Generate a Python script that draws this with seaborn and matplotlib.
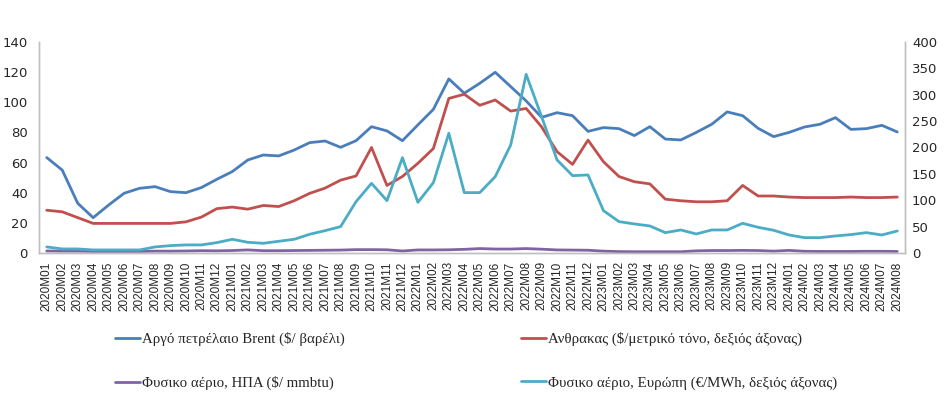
import matplotlib
matplotlib.use('Agg')
import matplotlib.pyplot as plt
import seaborn as sns
import pandas as pd

# Monthly labels 2020M01 - 2024M08
months = [f'{y}M{m:02d}' for y in range(2020, 2025) for m in range(1, 13)][:56]

# Values
brent = [63.3, 55.0, 33.0, 23.4, 31.8, 39.6, 42.9, 44.0, 40.7, 40.0, 43.4, 48.9,
         54.0, 61.7, 65.0, 64.4, 68.3, 73.2, 74.3, 70.1, 74.5, 83.8, 81.0, 74.5,
         85.0, 95.3, 115.5, 106.0, 112.6, 119.9, 110.4, 100.9, 90.0, 93.1, 91.1, 80.7,
         83.2, 82.5, 77.9, 83.8, 75.6, 75.0, 80.0, 85.4, 93.6, 91.1, 82.7, 77.2,
         80.0, 83.6, 85.4, 89.8, 82.0, 82.5, 84.7, 80.3]
coal = [81, 78, 67, 56, 56, 56, 56, 56, 56, 59, 68, 84,
        87, 83, 90, 88, 99, 113, 123, 138, 146, 200, 128, 145,
        170, 198, 293, 301, 280, 290, 269, 274, 239, 192, 168, 214,
        173, 145, 135, 131, 102, 99, 97, 97, 99, 128, 108, 108,
        106, 105, 105, 105, 106, 105, 105, 106]
gas_us = [1.3, 1.2, 1.2, 1.0, 1.0, 1.0, 1.0, 1.2, 1.2, 1.3, 1.5, 1.4,
          1.6, 2.0, 1.5, 1.5, 1.6, 1.7, 1.8, 1.9, 2.2, 2.2, 2.1, 1.3,
          2.0, 2.0, 2.1, 2.4, 2.9, 2.6, 2.6, 2.9, 2.5, 2.0, 1.9, 1.8,
          1.2, 0.9, 0.8, 0.8, 0.8, 0.8, 1.4, 1.6, 1.6, 1.7, 1.6, 1.2,
          1.7, 1.1, 1.0, 1.0, 1.0, 1.1, 1.1, 1.0]
gas_eu = [11.4, 7.6, 7.6, 5.7, 5.7, 5.7, 5.7, 11.4, 13.9, 15.2, 15.2, 19.6,
          25.9, 20.2, 18.3, 22.1, 25.9, 35.4, 42.3, 49.9, 97.3, 132.0, 99.2, 180.7,
          96.0, 133.3, 226.9, 114.4, 114.4, 144.7, 204.7, 338.7, 258.4, 176.3, 146.6, 147.9,
          80.2, 59.4, 55.0, 51.2, 38.5, 43.6, 36.0, 43.6, 43.6, 56.2, 48.6, 43.0,
          34.1, 29.0, 29.0, 32.2, 34.8, 38.5, 34.1, 41.7]

labels = ['Αργό πετρέλαιο Brent ($/ βαρέλι)',
          'Ανθρακας ($/μετρικό τόνο, δεξιός άξονας)',
          'Φυσικο αέριο, ΗΠΑ ($/ mmbtu)',
          'Φυσικο αέριο, Ευρώπη (€/MWh, δεξιός άξονας)']

df = pd.DataFrame({'pos': range(len(months)), 'month': months,
                   'brent': brent, 'coal': coal, 'gas_us': gas_us, 'gas_eu': gas_eu})

sns.set_style('white')
plt.rcParams['font.family'] = ['Liberation Sans', 'DejaVu Sans']

fig = plt.figure(figsize=(9.45, 3.94), dpi=100)
ax = fig.add_axes([0.0413, 0.358, 0.9164, 0.5354])
ax2 = ax.twinx()

lw = 2.0
sns.lineplot(data=df, x='pos', y='brent', ax=ax, color='#4A7EBB', lw=lw, label=labels[0], legend=False)
sns.lineplot(data=df, x='pos', y='gas_us', ax=ax, color='#8064A2', lw=lw, label=labels[2], legend=False)
sns.lineplot(data=df, x='pos', y='coal', ax=ax2, color='#C0504D', lw=lw, label=labels[1], legend=False)
sns.lineplot(data=df, x='pos', y='gas_eu', ax=ax2, color='#4BACC6', lw=lw, label=labels[3], legend=False)

ax.set_xlim(-0.5, len(months) - 0.5)
ax.set_ylim(0, 140)
ax2.set_ylim(0, 400)
ax.set_yticks(range(0, 141, 20))
ax2.set_yticks(range(0, 401, 50))
ax.set_xticks(range(len(months)))
ax.set_xticklabels(months, rotation=90, fontsize=8.5)
ax.tick_params(axis='y', length=0, pad=8)
ax2.tick_params(axis='y', length=0, pad=5)
for t in ax.get_yticklabels() + ax2.get_yticklabels():
    t.set_family('DejaVu Sans')
    t.set_fontsize(9.5)
ax.tick_params(axis='x', length=0, pad=6)
ax.set_xlabel('')
ax.set_ylabel('')
ax2.set_ylabel('')

for a in (ax, ax2):
    for side in ('left', 'right', 'bottom'):
        a.spines[side].set_color('#BFBFBF')
        a.spines[side].set_linewidth(1.0)
    a.spines['top'].set_visible(False)

h1, l1 = ax.get_legend_handles_labels()
h2, l2 = ax2.get_legend_handles_labels()
handles = [h1[0], h1[1], h2[0], h2[1]]
names = [l1[0], l1[1], l2[0], l2[1]]
fig.legend(handles, names, loc='upper left', bbox_to_anchor=(0.1155, 0.172), ncol=2,
           frameon=False, prop={'family': 'Liberation Serif', 'size': 10.7},
           handlelength=1.7, handletextpad=0.08, columnspacing=11.9, labelspacing=2.0,
           borderaxespad=0)

fig.savefig('out.png', dpi=100)
